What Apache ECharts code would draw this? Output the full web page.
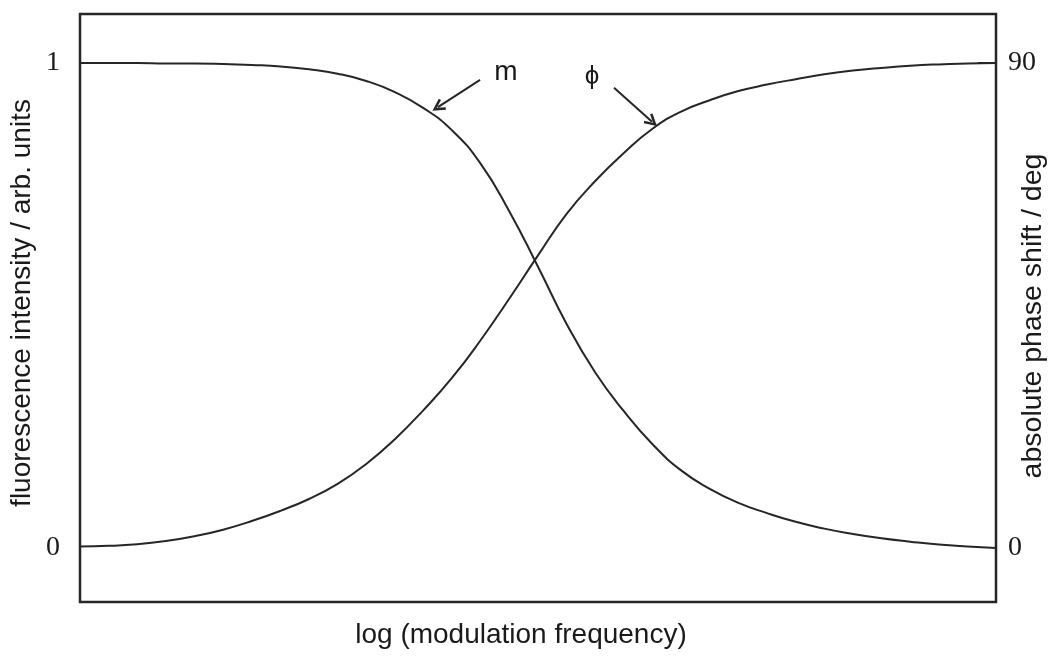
<!DOCTYPE html>
<html>
<head>
<meta charset="utf-8">
<script src="https://cdn.jsdelivr.net/npm/echarts@6/dist/echarts.min.js"></script>
<style>
  html, body { margin: 0; padding: 0; background: #ffffff; }
  #chart { width: 1056px; height: 661px; }
</style>
</head>
<body>
<div id="chart"></div>
<script>
// Horizontal axis: log(modulation frequency), in decades about the centre of the plot
const logFreq = [-2.000, -1.875, -1.750, -1.625, -1.500, -1.375, -1.250, -1.125,
                 -1.000, -0.875, -0.750, -0.625, -0.500, -0.375, -0.250, -0.125,
                  0.000,  0.125,  0.250,  0.375,  0.500,  0.625,  0.750,  0.875,
                  1.000,  1.125,  1.250,  1.375,  1.500,  1.625,  1.750,  1.875, 2.000];
// Modulation depth m (arb. units)
const mValues = [1.000, 1.000, 1.000, 0.999, 0.999, 0.998, 0.996, 0.993,
                 0.987, 0.978, 0.963, 0.940, 0.907, 0.861, 0.792, 0.694,
                 0.580, 0.462, 0.362, 0.282, 0.214, 0.160, 0.122, 0.093,
                 0.072, 0.054, 0.040, 0.029, 0.020, 0.013, 0.007, 0.003, 0.000];
// Absolute phase shift φ (degrees)
const phiValues = [0.3, 0.4, 0.7, 1.3, 2.2, 3.4, 5.0, 6.9,
                   9.1, 11.9, 15.6, 20.2, 25.6, 31.6, 38.6, 46.3,
                   54.3, 62.0, 68.1, 73.3, 77.8, 81.0, 83.1, 84.8,
                   86.0, 87.0, 87.9, 88.6, 89.1, 89.5, 89.75, 89.9, 90.0];

const leftTicks = [0, 1];
const rightTicks = [0, 90];

const xTitle = 'log (modulation frequency)';
const leftTitle = 'fluorescence intensity / arb. units';
const rightTitle = 'absolute phase shift / deg';

// Arrow annotations: [start, end] in data units
const mArrow = [[-0.253, 0.965], [-0.437, 0.909]];
const phiArrow = [[0.332, 85.4], [0.498, 79.1]];
const mLabelAt = [-0.140, 0.981];
const phiLabelAt = [0.236, 87.4];

const ink = '#262626';
const textInk = '#1a1a1a';
const sans = '"Liberation Sans", Arial, sans-serif';
const serif = '"Liberation Serif", "Times New Roman", serif';
// open (chevron) arrow head, pointing up before rotation
const chevron = 'path://M5,0 L10,9 L8.4,10 L5,4 L1.6,10 L0,9 Z';

const chart = echarts.init(document.getElementById('chart'), null, { renderer: 'canvas' });

function pairs(xs, ys) { return xs.map((x, i) => [x, ys[i]]); }

// short inward tick segment at a labelled value of a vertical axis
function tickSegment(x0, x1, y) { return [{ coord: [x0, y] }, { coord: [x1, y] }]; }

function arrowLine(yAxisIndex, seg) {
  return {
    type: 'line', yAxisIndex: yAxisIndex, data: [], silent: true,
    markLine: {
      silent: true, symbol: ['none', chevron], symbolSize: [13, 13], label: { show: false },
      lineStyle: { color: ink, width: 2, type: 'solid' },
      data: [[{ coord: seg[0] }, { coord: seg[1] }]]
    }
  };
}

chart.setOption({
  backgroundColor: '#ffffff',
  animation: false,
  grid: {
    left: 80, right: 60, top: 14, bottom: 59,
    outerBoundsMode: 'none',
    show: true, borderColor: ink, borderWidth: 2.5, backgroundColor: 'transparent'
  },
  xAxis: {
    type: 'value', min: -2, max: 2,
    name: xTitle, nameLocation: 'middle', nameGap: 19, nameMoveOverlap: false,
    nameTextStyle: { fontFamily: sans, fontSize: 28, color: textInk, padding: [0, 34, 0, 0] },
    axisLine: { show: false }, axisTick: { show: false },
    axisLabel: { show: false }, splitLine: { show: false }
  },
  yAxis: [
    {
      type: 'value', position: 'left', min: -0.1113, max: 1.101,
      name: leftTitle, nameLocation: 'middle', nameRotate: 90, nameGap: 44, nameMoveOverlap: false,
      nameTextStyle: { fontFamily: sans, fontSize: 28, color: textInk, padding: [0, 0, 0, 10] },
      axisLine: { show: false }, axisTick: { show: false },
      axisLabel: { show: true, customValues: leftTicks, margin: 20,
        fontFamily: serif, fontSize: 28, color: textInk },
      splitLine: { show: false }
    },
    {
      type: 'value', position: 'right', min: -10.02, max: 99.1,
      name: rightTitle, nameLocation: 'middle', nameRotate: 90, nameGap: 23, nameMoveOverlap: false,
      nameTextStyle: { fontFamily: sans, fontSize: 28.5, color: textInk, padding: [0, 16, 0, 0] },
      axisLine: { show: false }, axisTick: { show: false },
      axisLabel: { show: true, customValues: rightTicks, margin: 12,
        fontFamily: serif, fontSize: 28, color: textInk },
      splitLine: { show: false }
    }
  ],
  series: [
    {
      name: 'm', type: 'line', yAxisIndex: 0, smooth: 0.5, showSymbol: false,
      data: pairs(logFreq, mValues),
      lineStyle: { color: ink, width: 2 },
      markLine: {
        silent: true, symbol: 'none', label: { show: false },
        lineStyle: { color: ink, width: 2, type: 'solid' },
        data: [tickSegment(-2, -1.92, leftTicks[1])]
      },
      markPoint: {
        silent: true, symbol: 'circle', symbolSize: 0,
        label: { show: true, formatter: 'm', fontFamily: sans, fontSize: 28, color: textInk },
        data: [{ coord: mLabelAt }]
      }
    },
    {
      name: 'φ', type: 'line', yAxisIndex: 1, smooth: 0.5, showSymbol: false,
      data: pairs(logFreq, phiValues),
      lineStyle: { color: ink, width: 2 },
      markLine: {
        silent: true, symbol: 'none', label: { show: false },
        lineStyle: { color: ink, width: 2, type: 'solid' },
        data: [tickSegment(1.92, 2, rightTicks[1])]
      },
      markPoint: {
        silent: true, symbol: 'circle', symbolSize: 0,
        label: { show: true, formatter: 'ϕ', fontFamily: sans, fontSize: 26, color: textInk },
        data: [{ coord: phiLabelAt }]
      }
    },
    arrowLine(0, mArrow),
    arrowLine(1, phiArrow)
  ]
});
</script>
</body>
</html>
